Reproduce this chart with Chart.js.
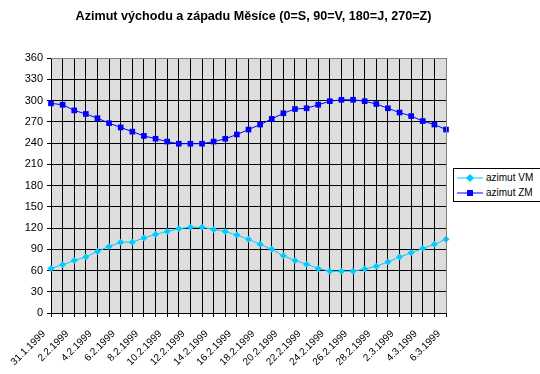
<!DOCTYPE html>
<html>
<head>
<meta charset="utf-8">
<script src="https://cdn.jsdelivr.net/npm/chart.js@4/dist/chart.umd.min.js"></script>
<style>
    html, body { margin: 0; padding: 0; background: #fff; overflow: hidden; }
    #wrap { position: relative; width: 540px; height: 374px; font-family: Arial, "Liberation Sans", sans-serif; }
    #title { position: absolute; left: 0; top: 9px; width: 507px; text-align: center; font-size: 12.6px; font-weight: bold; color: #000; white-space: nowrap; }
    #legend { position: absolute; left: 453px; top: 168px; width: 96px; height: 32px; border: 1px solid #000; background: #fff; font-size: 10px; }
    .item { position: absolute; left: 2px; height: 12px; line-height: 12px; white-space: nowrap; }
    .item svg { vertical-align: middle; }
    .item span { position: absolute; left: 30px; top: 0; }
</style>
</head>
<body>
<div id="wrap">
    <canvas id="graf" width="540" height="374"></canvas>
    <div id="title">Azimut východu a západu Měsíce (0=S, 90=V, 180=J, 270=Z)</div>
    <div id="legend">
        <div class="item" style="top:3px;">
            <svg width="28" height="12"><line x1="1" y1="6" x2="27" y2="6" stroke="#00CCFF" stroke-width="1"/><polygon points="14,2 18,6 14,10 10,6" fill="#00CCFF"/></svg>
            <span>azimut VM</span>
        </div>
        <div class="item" style="top:18px;">
            <svg width="28" height="12"><line x1="1" y1="6" x2="27" y2="6" stroke="#0000FF" stroke-width="1"/><rect x="11" y="3" width="6" height="6" fill="#0000FF"/></svg>
            <span>azimut ZM</span>
        </div>
    </div>
</div>
<script>
// data od 31.1.1999 do 6.3.1999 (kazdy den)
const dny = [
    '31.1.1999', '1.2.1999', '2.2.1999', '3.2.1999', '4.2.1999', '5.2.1999', '6.2.1999',
    '7.2.1999', '8.2.1999', '9.2.1999', '10.2.1999', '11.2.1999', '12.2.1999', '13.2.1999',
    '14.2.1999', '15.2.1999', '16.2.1999', '17.2.1999', '18.2.1999', '19.2.1999', '20.2.1999',
    '21.2.1999', '22.2.1999', '23.2.1999', '24.2.1999', '25.2.1999', '26.2.1999', '27.2.1999',
    '28.2.1999', '1.3.1999', '2.3.1999', '3.3.1999', '4.3.1999', '5.3.1999', '6.3.1999'
];

const azimutVM = [
    63, 68, 74, 79, 87, 94, 100, 100, 106, 111, 115, 119, 121, 121, 118, 115, 110, 104,
    97, 90, 81, 74, 69, 63, 59, 59, 59, 62, 66, 72, 79, 85, 91, 97, 104
];

const azimutZM = [
    296, 294, 286, 281, 275, 268, 262, 256, 250, 246, 242, 239, 239, 239, 242, 246, 252, 259,
    266, 274, 282, 288, 289, 294, 299, 301, 301, 299, 295, 289, 283, 278, 271, 266, 259
];

const yMin = 0, yMax = 360, yKrok = 30;

// sede pozadi plochy grafu + sedy ramecek nahore a vpravo
const pozadi = {
    id: 'pozadi',
    beforeDraw(chart) {
        const a = chart.chartArea;
        const ctx = chart.ctx;
        ctx.save();
        ctx.fillStyle = '#DDDDDD';
        ctx.fillRect(a.left, a.top, a.right - a.left, a.bottom - a.top);
        ctx.restore();
    },
    afterDraw(chart) {
        const a = chart.chartArea;
        const ctx = chart.ctx;
        ctx.save();
        ctx.strokeStyle = '#808080';
        ctx.lineWidth = 1;
        ctx.beginPath();
        ctx.moveTo(a.left, a.top + 0.5);
        ctx.lineTo(a.right + 0.5, a.top + 0.5);
        ctx.lineTo(a.right + 0.5, a.bottom);
        ctx.stroke();
        ctx.restore();
    }
};

Chart.defaults.font.family = 'Arial, "Liberation Sans", sans-serif';
Chart.defaults.color = '#000';

new Chart(document.getElementById('graf').getContext('2d'), {
    type: 'line',
    data: {
        labels: dny,
        datasets: [{
            label: 'azimut VM',
            data: azimutVM,
            borderColor: '#00CCFF',
            backgroundColor: '#00CCFF',
            borderWidth: 1,
            pointStyle: 'rectRot',
            pointRadius: 3.5,
            pointBorderWidth: 0
        }, {
            label: 'azimut ZM',
            data: azimutZM,
            borderColor: '#0000FF',
            backgroundColor: '#0000FF',
            borderWidth: 1,
            pointStyle: 'rect',
            pointRadius: 4,
            pointBorderWidth: 0
        }]
    },
    options: {
        responsive: false,
        animation: false,
        devicePixelRatio: 1,
        layout: { padding: { top: 58, right: 94, left: 0, bottom: 0 } },
        plugins: {
            legend: { display: false },
            title: { display: false },
            tooltip: { enabled: false }
        },
        scales: {
            x: {
                offset: false,
                afterFit: s => { s.height = 61; },
                grid: { color: '#000', lineWidth: 1, drawTicks: true, tickLength: 4, tickColor: '#000' },
                border: { color: '#000' },
                ticks: {
                    autoSkip: false,
                    maxRotation: 45,
                    minRotation: 45,
                    font: { size: 10 },
                    padding: 11,
                    labelOffset: -7,
                    callback: (v, i) => i % 2 === 0 ? dny[i] : ''
                }
            },
            y: {
                min: yMin,
                max: yMax,
                afterFit: s => { s.width = 51; },
                grid: { color: '#000', lineWidth: 1, drawTicks: true, tickLength: 4, tickColor: '#000' },
                border: { color: '#000' },
                ticks: { stepSize: yKrok, font: { size: 11 }, padding: 4 }
            }
        }
    },
    plugins: [pozadi]
});
</script>
</body>
</html>
